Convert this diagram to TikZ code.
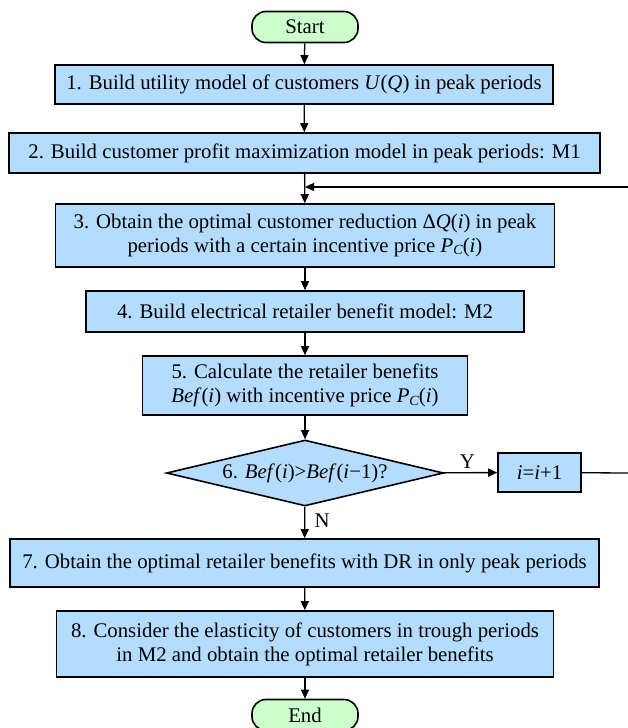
\documentclass[tikz,border=0pt]{standalone}
\usepackage{fontspec}
\setmainfont{Liberation Serif}
\usetikzlibrary{shapes.geometric,arrows.meta}
\definecolor{boxblue}{RGB}{180,220,255}
\definecolor{termgreen}{RGB}{204,255,204}
\newcommand{\iv}[1]{\textit{#1}}
\newcommand{\subC}{\raisebox{-0.25ex}{\fontsize{14}{14}\selectfont\textit{C}}}
\begin{document}
\begin{tikzpicture}[x=1pt,y=-1pt,
  every node/.style={font=\fontsize{20.8}{24}\selectfont},
  procbox/.style={draw=black,line width=1.6pt,fill=boxblue,inner sep=0pt,align=center},
  termbox/.style={draw=black,line width=1.6pt,fill=termgreen,rounded corners=14pt,inner sep=0pt,minimum width=106pt,minimum height=31pt},
  decbox/.style={draw=black,line width=1.6pt,fill=boxblue,diamond,aspect=4.2,inner sep=0pt,minimum width=277pt,minimum height=66pt},
  conn/.style={line width=1.3pt,-{Triangle[length=9pt,width=8pt]}},
  plainconn/.style={line width=1.3pt}]
\useasboundingbox (0,0) rectangle (627,728);
\node[termbox] (start) at (305,27) {Start};
\node[procbox,minimum width=498pt,minimum height=39pt] (b1) at (304,84.5) {1. Build utility model of customers \iv{U}(\iv{Q}) in peak periods};
\node[procbox,minimum width=591pt,minimum height=40pt] (b2) at (304.5,153) {2. Build customer profit maximization model in peak periods: M1};
\node[procbox,minimum width=499pt,minimum height=63pt] (b3) at (305,235.5) {3. Obtain the optimal customer reduction Δ\iv{Q}(\iv{i}) in peak\\periods with a certain incentive price \iv{P}\subC(\iv{i})};
\node[procbox,minimum width=438pt,minimum height=41pt] (b4) at (305,311.5) {4. Build electrical retailer benefit model: M2};
\node[procbox,minimum width=325pt,minimum height=59pt] (b5) at (305,385.5) {5. Calculate the retailer benefits\\\iv{Bef}(\iv{i}) with incentive price \iv{P}\subC(\iv{i})};
\node[decbox] (d6) at (305,473) {6. \iv{Bef}(\iv{i})>\iv{Bef}(\iv{i}−1)?};
\node[procbox,minimum width=83pt,minimum height=39pt] (inc) at (539.5,472.5) {\iv{i}=\iv{i}+1};
\node[procbox,minimum width=589pt,minimum height=48pt] (b7) at (304.5,563) {7. Obtain the optimal retailer benefits with DR in only peak periods};
\node[procbox,minimum width=497pt,minimum height=66pt] (b8) at (305,644) {8. Consider the elasticity of customers in trough periods\\in M2 and obtain the optimal retailer benefits};
\node[termbox] (end) at (305,715) {End};
\coordinate (join) at (305,187);
\coordinate (rc1) at (629,473);
\coordinate (rc2) at (629,187);
\draw[conn] (start) -- (b1);
\draw[conn] (b1) -- (b2);
\draw[conn] (b2) -- (b3);
\draw[conn] (b3) -- (b4);
\draw[conn] (b4) -- (b5);
\draw[conn] (b5) -- (d6);
\draw[conn] (d6) -- node[pos=0.45,above] (ylab) {Y} (inc);
\draw[plainconn] (inc) -- (rc1) -- (rc2);
\draw[conn] (rc2) -- (join);
\draw[conn] (d6) -- node[pos=0.45,right,xshift=6pt] (nlab) {N} (b7);
\draw[conn] (b7) -- (b8);
\draw[conn] (b8) -- (end);
\end{tikzpicture}
\end{document}
